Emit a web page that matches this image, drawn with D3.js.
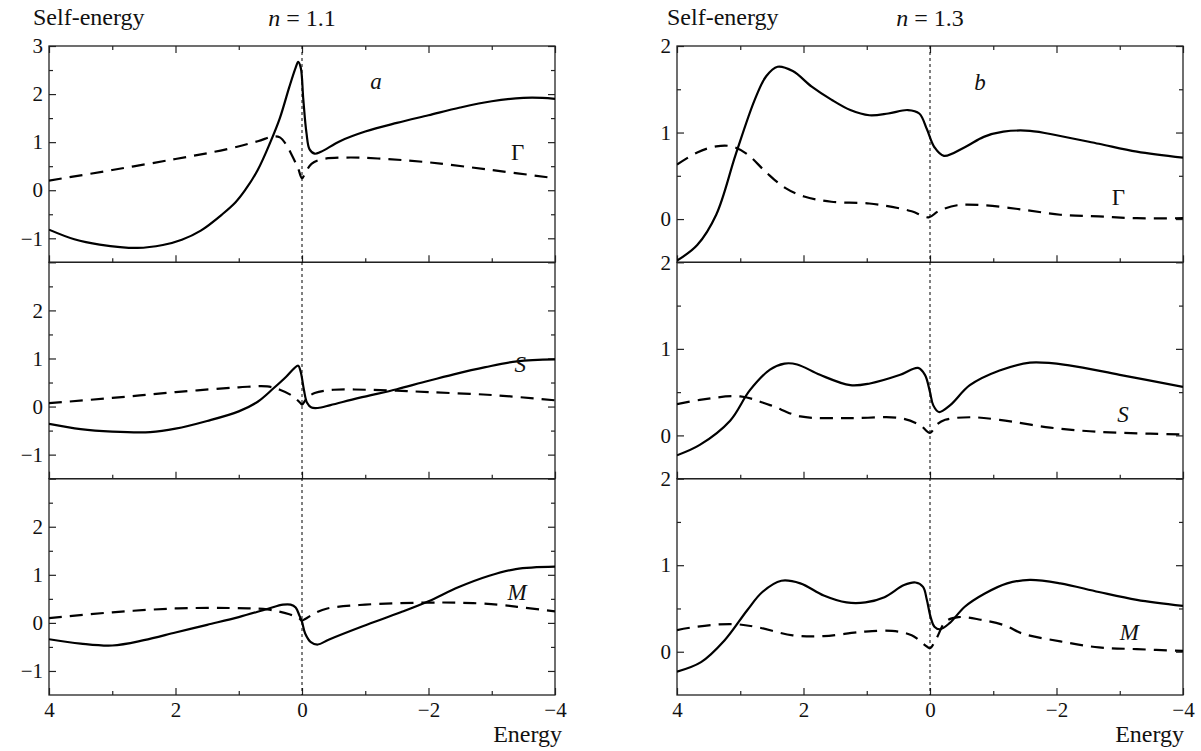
<!DOCTYPE html>
<html>
<head>
<meta charset="utf-8">
<script src="https://cdn.jsdelivr.net/npm/d3@7"></script>
<style>
    body { margin: 0; background: #ffffff; }
</style>
</head>
<body>
<div id="chart"></div>
<script>
// ---- data (energy, value) ----
// n = 1.1, column a
const gammaSolidA = [[4,-0.82],[3.6,-1.02],[3.2,-1.13],[2.6,-1.2],[2.2,-1.14],[1.9,-1.03],[1.6,-0.84],[1.26,-0.5],[1.05,-0.25],[0.9,0.0],[0.7,0.42],[0.5,1.0],[0.35,1.5],[0.2,2.15],[0.1,2.55],[0.06,2.67],[0.02,2.55],[-0.02,1.9],[-0.07,1.2],[-0.12,0.85],[-0.2,0.76],[-0.3,0.8],[-0.6,1.02],[-1.0,1.22],[-1.5,1.4],[-2.0,1.56],[-2.5,1.72],[-3.0,1.85],[-3.5,1.92],[-3.8,1.92],[-4,1.9]];
const gammaDashA = [[4,0.2],[3,0.42],[2,0.65],[1.2,0.85],[0.7,1.02],[0.45,1.12],[0.35,1.1],[0.25,0.95],[0.15,0.7],[0.06,0.45],[0,0.25],[-0.06,0.38],[-0.15,0.55],[-0.3,0.64],[-0.7,0.68],[-1.2,0.66],[-2,0.58],[-3,0.42],[-4,0.25]];
const sSolidA = [[4,-0.36],[3.5,-0.47],[3.0,-0.52],[2.4,-0.53],[2.0,-0.46],[1.5,-0.3],[1.0,-0.1],[0.7,0.1],[0.45,0.38],[0.25,0.62],[0.12,0.8],[0.06,0.85],[0.02,0.72],[-0.03,0.35],[-0.08,0.08],[-0.15,-0.02],[-0.25,-0.03],[-0.45,0.03],[-0.9,0.18],[-1.5,0.36],[-1.9,0.5],[-2.4,0.67],[-2.9,0.82],[-3.4,0.94],[-4,0.98]];
const sDashA = [[4,0.07],[3,0.18],[2,0.3],[1.0,0.4],[0.55,0.42],[0.35,0.35],[0.15,0.22],[0.03,0.08],[0,0.04],[-0.08,0.18],[-0.2,0.28],[-0.5,0.35],[-1,0.35],[-1.5,0.33],[-2,0.3],[-3,0.24],[-4,0.13]];
const mSolidA = [[4,-0.34],[3.5,-0.43],[3.0,-0.47],[2.5,-0.36],[2.0,-0.2],[1.5,-0.04],[1.0,0.12],[0.55,0.29],[0.3,0.38],[0.18,0.38],[0.1,0.32],[0.04,0.15],[0,0.02],[-0.05,-0.22],[-0.14,-0.4],[-0.25,-0.45],[-0.42,-0.35],[-0.96,-0.07],[-1.56,0.22],[-2.0,0.45],[-2.47,0.74],[-2.96,0.98],[-3.38,1.12],[-4,1.17]];
const mDashA = [[4,0.1],[3,0.22],[2,0.3],[1.15,0.31],[0.55,0.28],[0.2,0.18],[0.05,0.1],[0,0.05],[-0.05,0.08],[-0.2,0.2],[-0.4,0.3],[-1,0.38],[-1.9,0.42],[-2.5,0.42],[-3.1,0.38],[-3.5,0.32],[-4,0.24]];

// n = 1.3, column b
const gammaSolidB = [[4,-0.48],[3.68,-0.3],[3.38,0.05],[3.07,0.75],[2.77,1.38],[2.59,1.65],[2.41,1.76],[2.17,1.71],[1.87,1.53],[1.56,1.38],[1.26,1.26],[0.96,1.2],[0.66,1.22],[0.35,1.26],[0.17,1.22],[0.05,1.04],[-0.07,0.83],[-0.22,0.73],[-0.55,0.83],[-0.85,0.95],[-1.16,1.01],[-1.58,1.02],[-2.06,0.96],[-2.67,0.87],[-3.27,0.78],[-4,0.71]];
const gammaDashB = [[4,0.63],[3.68,0.77],[3.38,0.84],[3.14,0.84],[2.89,0.75],[2.59,0.54],[2.29,0.36],[1.99,0.26],[1.56,0.2],[0.96,0.18],[0.6,0.14],[0.29,0.09],[0.02,0.02],[-0.13,0.09],[-0.43,0.16],[-0.85,0.16],[-1.46,0.11],[-2.06,0.05],[-2.67,0.03],[-3.27,0.01],[-4,0.01]];
const sSolidB = [[4,-0.23],[3.64,-0.11],[3.16,0.17],[2.85,0.52],[2.53,0.76],[2.3,0.83],[2.1,0.82],[1.74,0.7],[1.26,0.58],[0.95,0.6],[0.47,0.7],[0.19,0.78],[0.08,0.7],[0.0,0.5],[-0.05,0.35],[-0.14,0.27],[-0.32,0.35],[-0.63,0.58],[-1.1,0.75],[-1.58,0.84],[-2.2,0.81],[-3.0,0.7],[-4,0.56]];
const sDashB = [[4,0.36],[3.64,0.41],[3.0,0.45],[2.53,0.35],[2.05,0.22],[1.26,0.2],[0.47,0.2],[0.16,0.12],[0,0.03],[-0.1,0.12],[-0.24,0.18],[-0.63,0.21],[-1.1,0.18],[-1.9,0.09],[-2.69,0.04],[-3.48,0.02],[-4,0.01]];
const mSolidB = [[4,-0.23],[3.62,-0.12],[3.25,0.13],[2.89,0.48],[2.65,0.69],[2.35,0.82],[2.05,0.79],[1.68,0.65],[1.32,0.57],[1.02,0.57],[0.72,0.63],[0.41,0.77],[0.23,0.8],[0.11,0.75],[0.05,0.6],[-0.01,0.4],[-0.07,0.29],[-0.16,0.26],[-0.31,0.33],[-0.55,0.52],[-0.86,0.67],[-1.22,0.79],[-1.58,0.83],[-2.06,0.79],[-2.67,0.69],[-3.27,0.6],[-4,0.53]];
const mDashB = [[4,0.25],[3.68,0.29],[3.14,0.32],[2.77,0.29],[2.17,0.19],[1.68,0.18],[1.08,0.23],[0.6,0.24],[0.29,0.19],[0.05,0.06],[0,0.04],[-0.1,0.15],[-0.25,0.35],[-0.45,0.4],[-0.8,0.37],[-1.2,0.3],[-1.46,0.21],[-2.06,0.12],[-2.67,0.05],[-3.27,0.03],[-4,0.01]];

// ticks
const energyTicks = [4, 2, 0, -2, -4];
const energyMinorTicks = [3, 1, -1, -3];
const yTicksA = [3, 2, 1, 0, -1];
const yMinorA = [2.5, 1.5, 0.5, -0.5];
const yTicksB = [2, 1, 0];
const yMinorB = [1.5, 0.5];

// curve labels, [energy, value] anchor of the text
const curveNames = ["\u0393", "S", "M"];
const nameSpotsA = [[-3.41, 0.63], [-3.45, 0.72], [-3.4, 0.47]];
const nameSpotsB = [[-2.98, 0.16], [-3.05, 0.15], [-3.15, 0.13]];

// ---- layout ----
let W = 1201, H = 751;
let plotTop = 46, plotBottom = 695;
let panelH = (plotBottom - plotTop) / 3;
let FONT = "'Liberation Serif', 'Times New Roman', 'DejaVu Serif', serif";

let columns = [
    {
        left: 49, right: 555, n: "1.1", letter: "a", letterAt: [-1.17, 2.1],
        yDomain: [-1.5, 3], yTicks: yTicksA, yMinor: yMinorA,
        solid: [gammaSolidA, sSolidA, mSolidA], dash: [gammaDashA, sDashA, mDashA],
        names: nameSpotsA, titleX: 33, energyEnd: 562
    },
    {
        left: 677, right: 1183, n: "1.3", letter: "b", letterAt: [-0.79, 1.49],
        yDomain: [-0.5, 2], yTicks: yTicksB, yMinor: yMinorB,
        solid: [gammaSolidB, sSolidB, mSolidB], dash: [gammaDashB, sDashB, mDashB],
        names: nameSpotsB, titleX: 667, energyEnd: 1184
    }
];

let fmt = function (v) {
    return v < 0 ? "\u2212" + Math.abs(v) : String(v);
};

let svg = d3.select("#chart").append("svg").attr("width", W).attr("height", H);

let defs = svg.append("defs");

//small helper so every label gets the serif face
function label(parent, x, y, size, txt) {
    return parent.append("text")
        .attr("x", x)
        .attr("y", y)
        .attr("font-family", FONT)
        .style("font-family", FONT)
        .style("font-size", size + "px")
        .attr("fill", "#111")
        .text(txt);
}

columns.forEach(function (col, ci) {
    let x = d3.scaleLinear().domain([4, -4]).range([col.left, col.right]);

    //Title "Self-energy" and n = ... (centred on the zero line)
    label(svg, col.titleX, 25, 24, "Self-energy");

    let nt = label(svg, x(0), 26, 24, null).attr("text-anchor", "middle");
    nt.append("tspan").style("font-style", "italic").text("n");
    nt.append("tspan").text(" = " + col.n);

    for (let p = 0; p < 3; p++) {
        let pTop = plotTop + p * panelH;
        let pBot = pTop + panelH;
        let y = d3.scaleLinear().domain(col.yDomain).range([pBot, pTop]);
        let g = svg.append("g");

        //clip path for the curves
        let clipId = "clip" + ci + "_" + p;
        defs.append("clipPath").attr("id", clipId)
            .append("rect")
            .attr("x", col.left).attr("y", pTop)
            .attr("width", col.right - col.left).attr("height", panelH);

        //Left axis, labelled majors
        let labels = col.yTicks.filter(function (v) {
            return !(p > 0 && v === col.yDomain[1] && ci === 0);
        });
        g.append("g")
            .attr("transform", "translate(" + col.left + ",0)")
            .call(d3.axisLeft(y).tickValues(col.yTicks).tickSize(-7).tickPadding(6)
                .tickFormat(function (v) { return labels.indexOf(v) >= 0 ? fmt(v) : ""; }))
            .call(function (a) { a.select(".domain").remove(); });
        g.append("g")
            .attr("transform", "translate(" + col.left + ",0)")
            .call(d3.axisLeft(y).tickValues(col.yMinor).tickSize(-4).tickFormat(""))
            .call(function (a) { a.select(".domain").remove(); });

        //Right axis, no labels
        g.append("g")
            .attr("transform", "translate(" + col.right + ",0)")
            .call(d3.axisRight(y).tickValues(col.yTicks).tickSize(-7).tickFormat(""))
            .call(function (a) { a.select(".domain").remove(); });
        g.append("g")
            .attr("transform", "translate(" + col.right + ",0)")
            .call(d3.axisRight(y).tickValues(col.yMinor).tickSize(-4).tickFormat(""))
            .call(function (a) { a.select(".domain").remove(); });

        //Bottom ticks of each panel, labels on the last one only
        g.append("g")
            .attr("transform", "translate(0," + pBot + ")")
            .call(d3.axisBottom(x).tickValues(energyTicks).tickSize(-7).tickPadding(7)
                .tickFormat(p === 2 ? fmt : ""))
            .call(function (a) { a.select(".domain").remove(); });
        g.append("g")
            .attr("transform", "translate(0," + pBot + ")")
            .call(d3.axisBottom(x).tickValues(energyMinorTicks).tickSize(-4).tickFormat(""))
            .call(function (a) { a.select(".domain").remove(); });

        if (p === 0) {
            g.append("g")
                .attr("transform", "translate(0," + pTop + ")")
                .call(d3.axisTop(x).tickValues(energyTicks).tickSize(-7).tickFormat(""))
                .call(function (a) { a.select(".domain").remove(); });
            g.append("g")
                .attr("transform", "translate(0," + pTop + ")")
                .call(d3.axisTop(x).tickValues(energyMinorTicks).tickSize(-4).tickFormat(""))
                .call(function (a) { a.select(".domain").remove(); });
        }

        g.selectAll(".tick line").attr("stroke", "#222").attr("stroke-width", 1.2);
        g.selectAll(".tick text")
            .attr("font-family", FONT)
            .style("font-family", FONT)
            .style("font-size", "21px")
            .attr("fill", "#111");

        //Frame
        g.append("rect")
            .attr("x", col.left).attr("y", pTop)
            .attr("width", col.right - col.left).attr("height", panelH)
            .attr("fill", "none")
            .attr("stroke", "#222")
            .attr("stroke-width", 1.3);

        //The curves
        let line = d3.line()
            .x(function (d) { return x(d[0]); })
            .y(function (d) { return y(d[1]); })
            .curve(d3.curveCatmullRom.alpha(0.5));

        let curves = g.append("g").attr("clip-path", "url(#" + clipId + ")");
        curves.append("path")
            .attr("d", line(col.dash[p]))
            .attr("fill", "none")
            .attr("stroke", "#000")
            .attr("stroke-width", 2.2)
            .attr("stroke-dasharray", "13,8");
        curves.append("path")
            .attr("d", line(col.solid[p]))
            .attr("fill", "none")
            .attr("stroke", "#000")
            .attr("stroke-width", 2.2);

        //Curve name
        let spot = col.names[p];
        label(g, x(spot[0]), y(spot[1]), 23, curveNames[p])
            .attr("text-anchor", "middle")
            .style("font-style", p === 0 ? "normal" : "italic");

        if (p === 0) {
            label(g, x(col.letterAt[0]), y(col.letterAt[1]), 23, col.letter)
                .attr("text-anchor", "middle")
                .style("font-style", "italic");
        }
    }

    //Dotted zero line through the three panels
    svg.append("line")
        .attr("x1", x(0)).attr("x2", x(0))
        .attr("y1", plotTop).attr("y2", plotBottom)
        .attr("stroke", "#000")
        .attr("stroke-width", 1)
        .attr("stroke-dasharray", "3,3");

    //Axis title
    label(svg, col.energyEnd, 742, 24, "Energy").attr("text-anchor", "end");
});
</script>
</body>
</html>
